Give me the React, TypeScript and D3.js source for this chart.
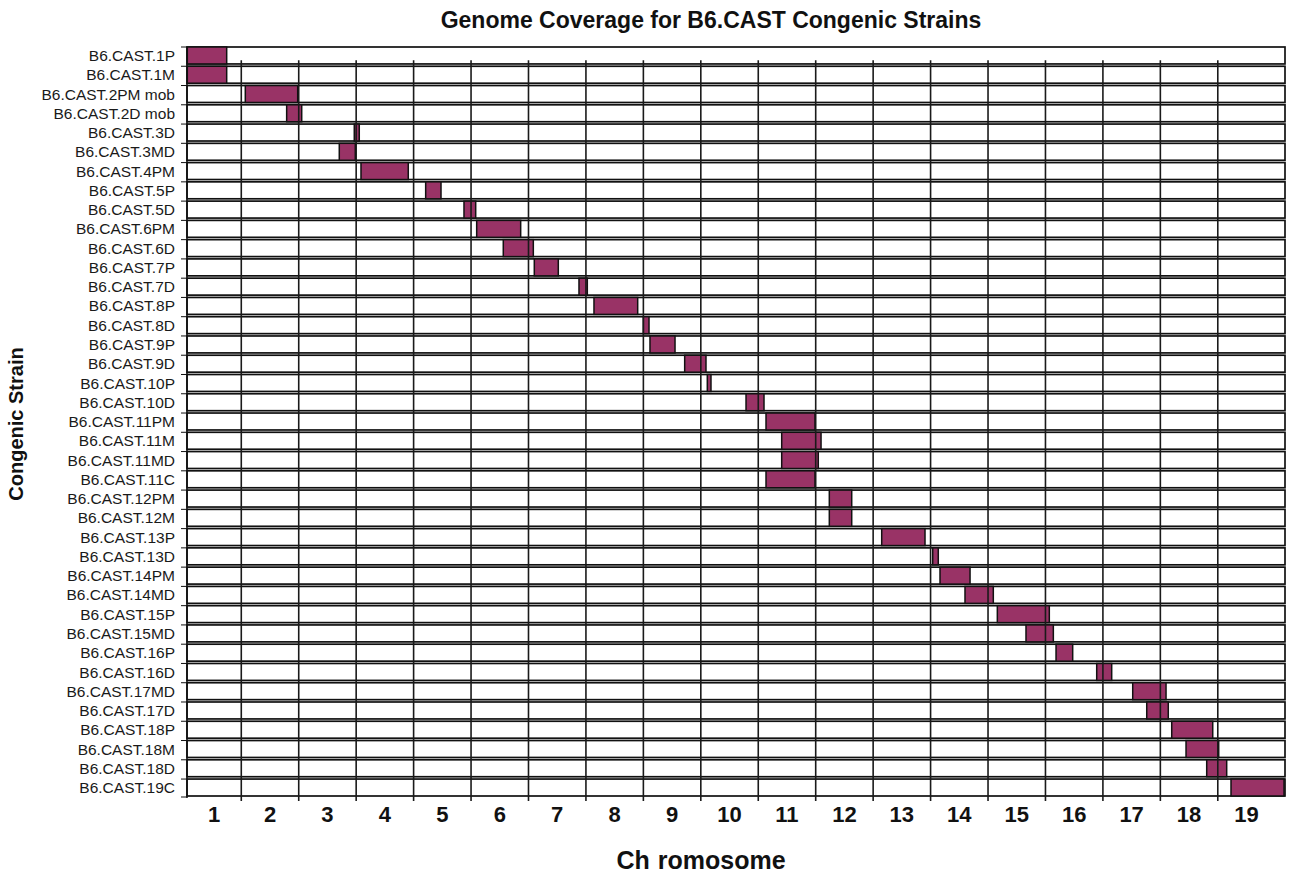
import * as d3 from 'd3';

// congenic strains, top to bottom
const strains = [
  'B6.CAST.1P', 'B6.CAST.1M', 'B6.CAST.2PM mob', 'B6.CAST.2D mob', 'B6.CAST.3D',
  'B6.CAST.3MD', 'B6.CAST.4PM', 'B6.CAST.5P', 'B6.CAST.5D', 'B6.CAST.6PM',
  'B6.CAST.6D', 'B6.CAST.7P', 'B6.CAST.7D', 'B6.CAST.8P', 'B6.CAST.8D',
  'B6.CAST.9P', 'B6.CAST.9D', 'B6.CAST.10P', 'B6.CAST.10D', 'B6.CAST.11PM',
  'B6.CAST.11M', 'B6.CAST.11MD', 'B6.CAST.11C', 'B6.CAST.12PM', 'B6.CAST.12M',
  'B6.CAST.13P', 'B6.CAST.13D', 'B6.CAST.14PM', 'B6.CAST.14MD', 'B6.CAST.15P',
  'B6.CAST.15MD', 'B6.CAST.16P', 'B6.CAST.16D', 'B6.CAST.17MD', 'B6.CAST.17D',
  'B6.CAST.18P', 'B6.CAST.18M', 'B6.CAST.18D', 'B6.CAST.19C',
];

// CAST segment start / end, in genome units (chromosome k spans k-1 .. k)
const segStart = [
  0.06, 0.06, 1.07, 1.79, 2.967, 2.706, 3.084, 4.21, 4.877, 5.098,
  5.561, 6.101, 6.879, 7.14, 7.999, 8.115, 8.719, 9.113, 9.787, 10.135,
  10.408, 10.408, 10.135, 11.237, 11.237, 12.149, 13.037, 13.164, 13.599, 14.162,
  14.661, 15.184, 15.892, 16.519, 16.763, 17.198, 17.447, 17.807, 18.23,
];
const segEnd = [
  0.746, 0.746, 1.982, 2.052, 3.054, 2.985, 3.907, 4.477, 5.081, 5.864,
  6.084, 6.519, 7.024, 7.901, 8.098, 8.551, 9.09, 9.177, 10.1, 10.988,
  11.093, 11.045, 10.988, 11.627, 11.627, 12.903, 13.134, 13.687, 14.092, 15.067,
  15.137, 15.474, 16.153, 17.099, 17.138, 17.912, 18.016, 18.155, 19.153,
];

const chromosomes = [
  '1', '2', '3', '4', '5', '6', '7', '8', '9', '10',
  '11', '12', '13', '14', '15', '16', '17', '18', '19',
];

const W = 1289;
const H = 874;
const FONT = "'Liberation Sans', Arial, Helvetica, sans-serif";
const BAR = '#993366';

export default function App() {
  const x = d3.scaleLinear().domain([0.055, 19.17]).range([187, 1285]);
  const y = d3.scaleBand<string>().domain(strains).range([47, 796]).paddingInner(0.12);
  const [x0, x1] = x.range();
  const [dom0, dom1] = x.domain();
  const bw = y.bandwidth();
  const yTop = y.range()[0];
  const yBottom = y.range()[1];

  const boundaries = d3.range(1, chromosomes.length);
  const gridTop = (y(strains[1]) as number) - 6;

  return (
    <svg
      width={W}
      height={H}
      style={{ position: 'absolute', left: 0, top: 0, background: '#fff' }}
      fontFamily={FONT}
    >
      {/* title */}
      <text x={711} y={28} textAnchor="middle" fontSize={23} fontWeight="bold" fill="#111">
        Genome Coverage for B6.CAST Congenic Strains
      </text>

      {/* row boxes and CAST segments */}
      {strains.map((s, i) => {
        const yy = y(s) as number;
        return (
          <g key={s}>
            <rect x={x0} y={yy} width={x1 - x0} height={bw} fill="#fff" stroke="#111" strokeWidth={1.7} />
            <rect
              x={x(segStart[i])}
              y={yy}
              width={x(segEnd[i]) - x(segStart[i])}
              height={bw}
              fill={BAR}
              stroke="#111"
              strokeWidth={1.5}
            />
            <text
              x={175}
              y={yy + bw / 2}
              dy="0.36em"
              textAnchor="end"
              fontSize={15.5}
              fill="#1a1a1a"
            >
              {s}
            </text>
            <line x1={x0 - 6} x2={x0} y1={yy} y2={yy} stroke="#111" strokeWidth={1} />
          </g>
        );
      })}
      <line x1={x0 - 6} x2={x0} y1={yBottom + 1} y2={yBottom + 1} stroke="#111" strokeWidth={1} />

      {/* left axis */}
      <line x1={x0} x2={x0} y1={yTop} y2={yBottom + 2} stroke="#111" strokeWidth={1.5} />

      {/* chromosome boundaries */}
      {boundaries.map(b => (
        <line
          key={b}
          x1={x(b)}
          x2={x(b)}
          y1={gridTop}
          y2={yBottom + 5}
          stroke="#1a1a1a"
          strokeWidth={1.6}
        />
      ))}

      {/* chromosome labels */}
      {chromosomes.map((c, i) => {
        const lo = Math.max(i, dom0);
        const hi = Math.min(i + 1, dom1);
        return (
          <text
            key={c}
            x={(x(lo) + x(hi)) / 2}
            y={822}
            textAnchor="middle"
            fontSize={22}
            fontWeight="bold"
            fill="#111"
          >
            {c}
          </text>
        );
      })}

      {/* axis titles */}
      <text x={701} y={869} textAnchor="middle" fontSize={25} fontWeight="bold" fill="#111">
        <tspan>Ch</tspan>
        <tspan dx={8}>romosome</tspan>
      </text>
      <text
        transform={`translate(23, 424) rotate(-90)`}
        textAnchor="middle"
        fontSize={20}
        fontWeight="bold"
        fill="#111"
      >
        Congenic Strain
      </text>
    </svg>
  );
}
